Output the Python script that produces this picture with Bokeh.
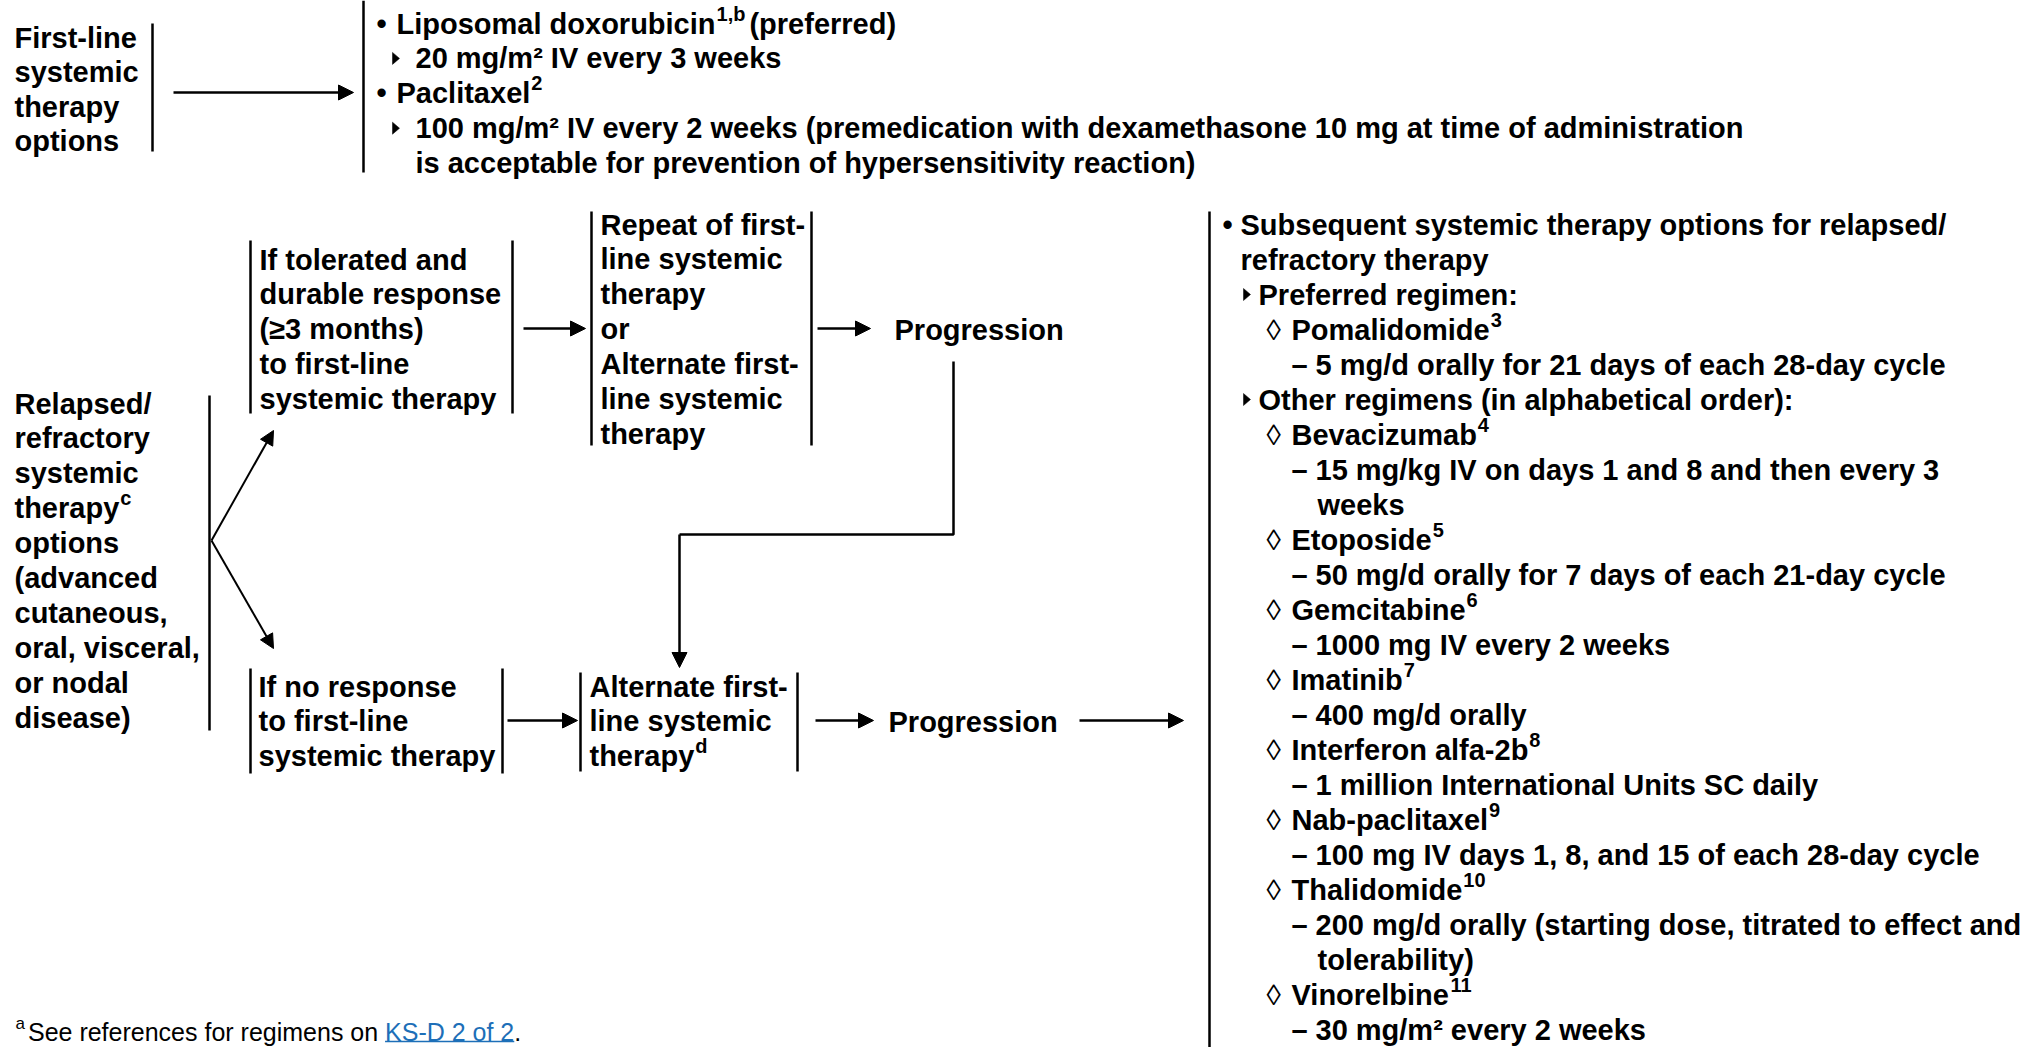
from bokeh.plotting import figure
from bokeh.models import Range1d, Arrow, NormalHead, ColumnDataSource
from bokeh.core.properties import value
from bokeh.embed import file_html
from bokeh.resources import INLINE

# ------------------------------------------------------------------ content
first_line_label = ["First-line", "systemic", "therapy", "options"]

# (marker, [(text, superscript), ...])
first_line_regimens = [
    ("bullet", [("Liposomal doxorubicin", "1,b"), (" (preferred)", "")]),
    ("tri", [("20 mg/m\u00b2 IV every 3 weeks", "")]),
    ("bullet", [("Paclitaxel", "2")]),
    ("tri", [("100 mg/m\u00b2 IV every 2 weeks (premedication with dexamethasone 10 mg at time of administration", "")]),
    ("tri_cont", [("is acceptable for prevention of hypersensitivity reaction)", "")]),
]

relapsed_label = [("Relapsed/", ""), ("refractory", ""), ("systemic", ""), ("therapy", "c"),
                  ("options", ""), ("(advanced", ""), ("cutaneous,", ""), ("oral, visceral,", ""),
                  ("or nodal", ""), ("disease)", "")]

box_durable = ["If tolerated and", "durable response", "(\u22653 months)", "to first-line", "systemic therapy"]
box_repeat = ["Repeat of first-", "line systemic", "therapy", "or", "Alternate first-", "line systemic", "therapy"]
box_no_response = ["If no response", "to first-line", "systemic therapy"]
box_alternate = [("Alternate first-", ""), ("line systemic", ""), ("therapy", "d")]
progression_label = "Progression"

subsequent_options = [
    ("bullet", [("Subsequent systemic therapy options for relapsed/", "")]),
    ("bullet_cont", [("refractory therapy", "")]),
    ("tri", [("Preferred regimen:", "")]),
    ("diamond", [("Pomalidomide", "3")]),
    ("dash", [("5 mg/d orally for 21 days of each 28-day cycle", "")]),
    ("tri", [("Other regimens (in alphabetical order):", "")]),
    ("diamond", [("Bevacizumab", "4")]),
    ("dash", [("15 mg/kg IV on days 1 and 8 and then every 3", "")]),
    ("dash_cont", [("weeks", "")]),
    ("diamond", [("Etoposide", "5")]),
    ("dash", [("50 mg/d orally for 7 days of each 21-day cycle", "")]),
    ("diamond", [("Gemcitabine", "6")]),
    ("dash", [("1000 mg IV every 2 weeks", "")]),
    ("diamond", [("Imatinib", "7")]),
    ("dash", [("400 mg/d orally", "")]),
    ("diamond", [("Interferon alfa-2b", "8")]),
    ("dash", [("1 million International Units SC daily", "")]),
    ("diamond", [("Nab-paclitaxel", "9")]),
    ("dash", [("100 mg IV days 1, 8, and 15 of each 28-day cycle", "")]),
    ("diamond", [("Thalidomide", "10")]),
    ("dash", [("200 mg/d orally (starting dose, titrated to effect and", "")]),
    ("dash_cont", [("tolerability)", "")]),
    ("diamond", [("Vinorelbine", "11")]),
    ("dash", [("30 mg/m\u00b2 every 2 weeks", "")]),
]

footnote_sup = "a"
footnote_text = "See references for regimens on "
footnote_link = "KS-D 2 of 2"
footnote_end = "."

# ------------------------------------------------------------------ font metrics (Arial / Liberation Sans)
UP = "ABCDEFGHIJKLMNOPQRSTUVWXYZ"
LO = "abcdefghijklmnopqrstuvwxyz"
BOLD = dict(zip(UP, [722, 722, 722, 722, 667, 611, 778, 722, 278, 556, 722, 611, 833, 722, 778, 667, 778, 722, 667, 611, 722, 667, 944, 667, 667, 611]))
BOLD.update(zip(LO, [556, 611, 556, 611, 556, 333, 611, 611, 278, 278, 556, 278, 889, 611, 611, 611, 611, 389, 556, 333, 611, 556, 778, 556, 556, 500]))
BOLD.update({" ": 278, "(": 333, ")": 333, ",": 278, "-": 333, ".": 278, "/": 278, ":": 333, "\u2265": 549, "\u00b2": 333})
REG = dict(zip(UP, [667, 667, 722, 722, 667, 611, 778, 722, 278, 500, 667, 556, 833, 722, 778, 667, 778, 722, 667, 611, 722, 667, 944, 667, 667, 611]))
REG.update(zip(LO, [556, 556, 500, 556, 556, 278, 556, 556, 222, 222, 500, 222, 833, 556, 556, 556, 556, 333, 500, 278, 556, 500, 722, 500, 500, 500]))
REG.update({" ": 278, "(": 333, ")": 333, ",": 278, "-": 333, ".": 278, "/": 278, ":": 278})


def text_width(s, size, table):
    return sum(table.get(ch, 556) for ch in s) * size / 1000.0


# ------------------------------------------------------------------ layout
W, H = 2034, 1047
FS = 29          # main font size (px)
SUP = 20         # superscript size
SUP_RISE = 10
PITCH = 34.9
FONT = "Liberation Sans"
TOP_DY = 13      # top block pushed down so that its first line is not cut off

main = dict(x=[], y=[], text=[])
sup = dict(x=[], y=[], text=[])
diam = dict(x=[], y=[], text=[])
tri_xs, tri_ys = [], []


def put_line(x, y, segments):
    for txt, s in segments:
        main["x"].append(x); main["y"].append(y); main["text"].append(txt)
        x += text_width(txt, FS, BOLD)
        if s:
            x += 1
            sup["x"].append(x); sup["y"].append(y - SUP_RISE); sup["text"].append(s)
            x += text_width(s, SUP, BOLD) + 4


def put_list(items, y0, pitch, pos):
    for i, (kind, segs) in enumerate(items):
        y = y0 + i * pitch
        mx, tx = pos[kind]
        if kind == "bullet":
            main["x"].append(mx); main["y"].append(y); main["text"].append("\u2022")
        elif kind == "dash":
            main["x"].append(mx); main["y"].append(y); main["text"].append("\u2013")
        elif kind == "diamond":
            diam["x"].append(mx); diam["y"].append(y); diam["text"].append("\u25ca")
        elif kind == "tri":
            tri_xs.append([mx, mx, mx + 7]); tri_ys.append([y - 6, y + 6, y])
        put_line(tx, y, segs)


# left labels
for i, t in enumerate(first_line_label):
    put_line(14, 24 + TOP_DY + i * 34.6, [(t, "")])
for i, seg in enumerate(relapsed_label):
    put_line(14, 403 + i * PITCH, [seg])

# first-line regimens
put_list(first_line_regimens, 10 + TOP_DY, 34.9,
         {"bullet": (376, 396), "tri": (392, 415), "tri_cont": (None, 415)})

# boxes
for i, t in enumerate(box_durable):
    put_line(259, 259 + i * PITCH, [(t, "")])
for i, t in enumerate(box_repeat):
    put_line(600, 224 + i * PITCH, [(t, "")])
put_line(894, 329, [(progression_label, "")])
for i, t in enumerate(box_no_response):
    put_line(258, 686 + i * PITCH, [(t, "")])
for i, seg in enumerate(box_alternate):
    put_line(589, 686 + i * PITCH, [seg])
put_line(888, 721, [(progression_label, "")])

# subsequent options
put_list(subsequent_options, 224, 35.0,
         {"bullet": (1222, 1240), "bullet_cont": (None, 1240), "tri": (1243, 1258),
          "diamond": (1266, 1291), "dash": (1291, 1315), "dash_cont": (None, 1317)})

# ------------------------------------------------------------------ figure
p = figure(width=W, height=H, x_range=Range1d(0, W), y_range=Range1d(H, 0),
           output_backend="svg", toolbar_location=None, x_axis_type=None, y_axis_type=None,
           min_border=0, outline_line_color=None, background_fill_color="white",
           border_fill_color="white")
p.xgrid.visible = False
p.ygrid.visible = False

# vertical bars
bars = dict(
    x=[152, 363, 250, 512, 591, 811, 209, 250, 502, 580, 797, 1209],
    y0=[10 + TOP_DY, 0, 240, 240, 211, 211, 395, 668, 668, 672, 672, 211],
    y1=[138 + TOP_DY, 159 + TOP_DY, 413, 413, 445, 445, 730, 773, 773, 771, 771, 1047],
)
p.segment(x0="x", y0="y0", x1="x", y1="y1", source=ColumnDataSource(bars),
          line_color="black", line_width=2.5)

# connector from upper Progression down to the alternate box
p.line([953, 953, 679], [361, 534, 534], line_color="black", line_width=2.5)

arrows = ColumnDataSource(dict(
    x0=[173, 523, 817, 507, 815, 1079, 679],
    y0=[79 + TOP_DY, 328, 328, 720, 720, 720, 534],
    x1=[353, 585, 870, 577, 873, 1183, 679],
    y1=[79 + TOP_DY, 328, 328, 720, 720, 720, 667],
))
p.add_layout(Arrow(end=NormalHead(size=15, fill_color="black", line_color="black", line_width=1),
                   source=arrows, x_start="x0", y_start="y0", x_end="x1", y_end="y1",
                   line_color="black", line_width=2.5))
diag = ColumnDataSource(dict(x0=[211, 211], y0=[540, 540], x1=[273, 273], y1=[430, 648]))
p.add_layout(Arrow(end=NormalHead(size=14, fill_color="black", line_color="black", line_width=1),
                   source=diag, x_start="x0", y_start="y0", x_end="x1", y_end="y1",
                   line_color="black", line_width=2))

# triangle list markers
p.patches(tri_xs, tri_ys, fill_color="black", line_color="black", line_width=0.5)

# texts
p.text(x="x", y="y", text="text", source=ColumnDataSource(main), text_font=value(FONT),
       text_font_style="bold", text_font_size=f"{FS}px", text_baseline="alphabetic",
       text_align="left", text_color="black")
p.text(x="x", y="y", text="text", source=ColumnDataSource(sup), text_font=value(FONT),
       text_font_style="bold", text_font_size=f"{SUP}px", text_baseline="alphabetic",
       text_align="left", text_color="black")
p.text(x="x", y="y", text="text", source=ColumnDataSource(diam), text_font=value(FONT),
       text_font_style="normal", text_font_size=f"{FS}px", text_baseline="alphabetic",
       text_align="left", text_color="black")

# footnote
FN = 25
fy = 1031
fx = 15
LINK = "#1d6fb8"
p.text(x=[fx], y=[fy - 8], text=[footnote_sup], text_font=value(FONT), text_font_size="17px",
       text_baseline="alphabetic", text_color="black")
fx2 = fx + text_width(footnote_sup, 17, REG) + 3
p.text(x=[fx2], y=[fy], text=[footnote_text], text_font=value(FONT), text_font_size=f"{FN}px",
       text_baseline="alphabetic", text_color="black")
lx = fx2 + text_width(footnote_text, FN, REG)
lw = text_width(footnote_link, FN, REG)
p.text(x=[lx], y=[fy], text=[footnote_link], text_font=value(FONT), text_font_size=f"{FN}px",
       text_baseline="alphabetic", text_color=LINK)
p.segment(x0=[lx], y0=[fy + 10], x1=[lx + lw], y1=[fy + 10], line_color=LINK, line_width=1.5)
p.text(x=[lx + lw], y=[fy], text=[footnote_end], text_font=value(FONT), text_font_size=f"{FN}px",
       text_baseline="alphabetic", text_color="black")

open("out.html", "w").write(file_html(p, INLINE))
